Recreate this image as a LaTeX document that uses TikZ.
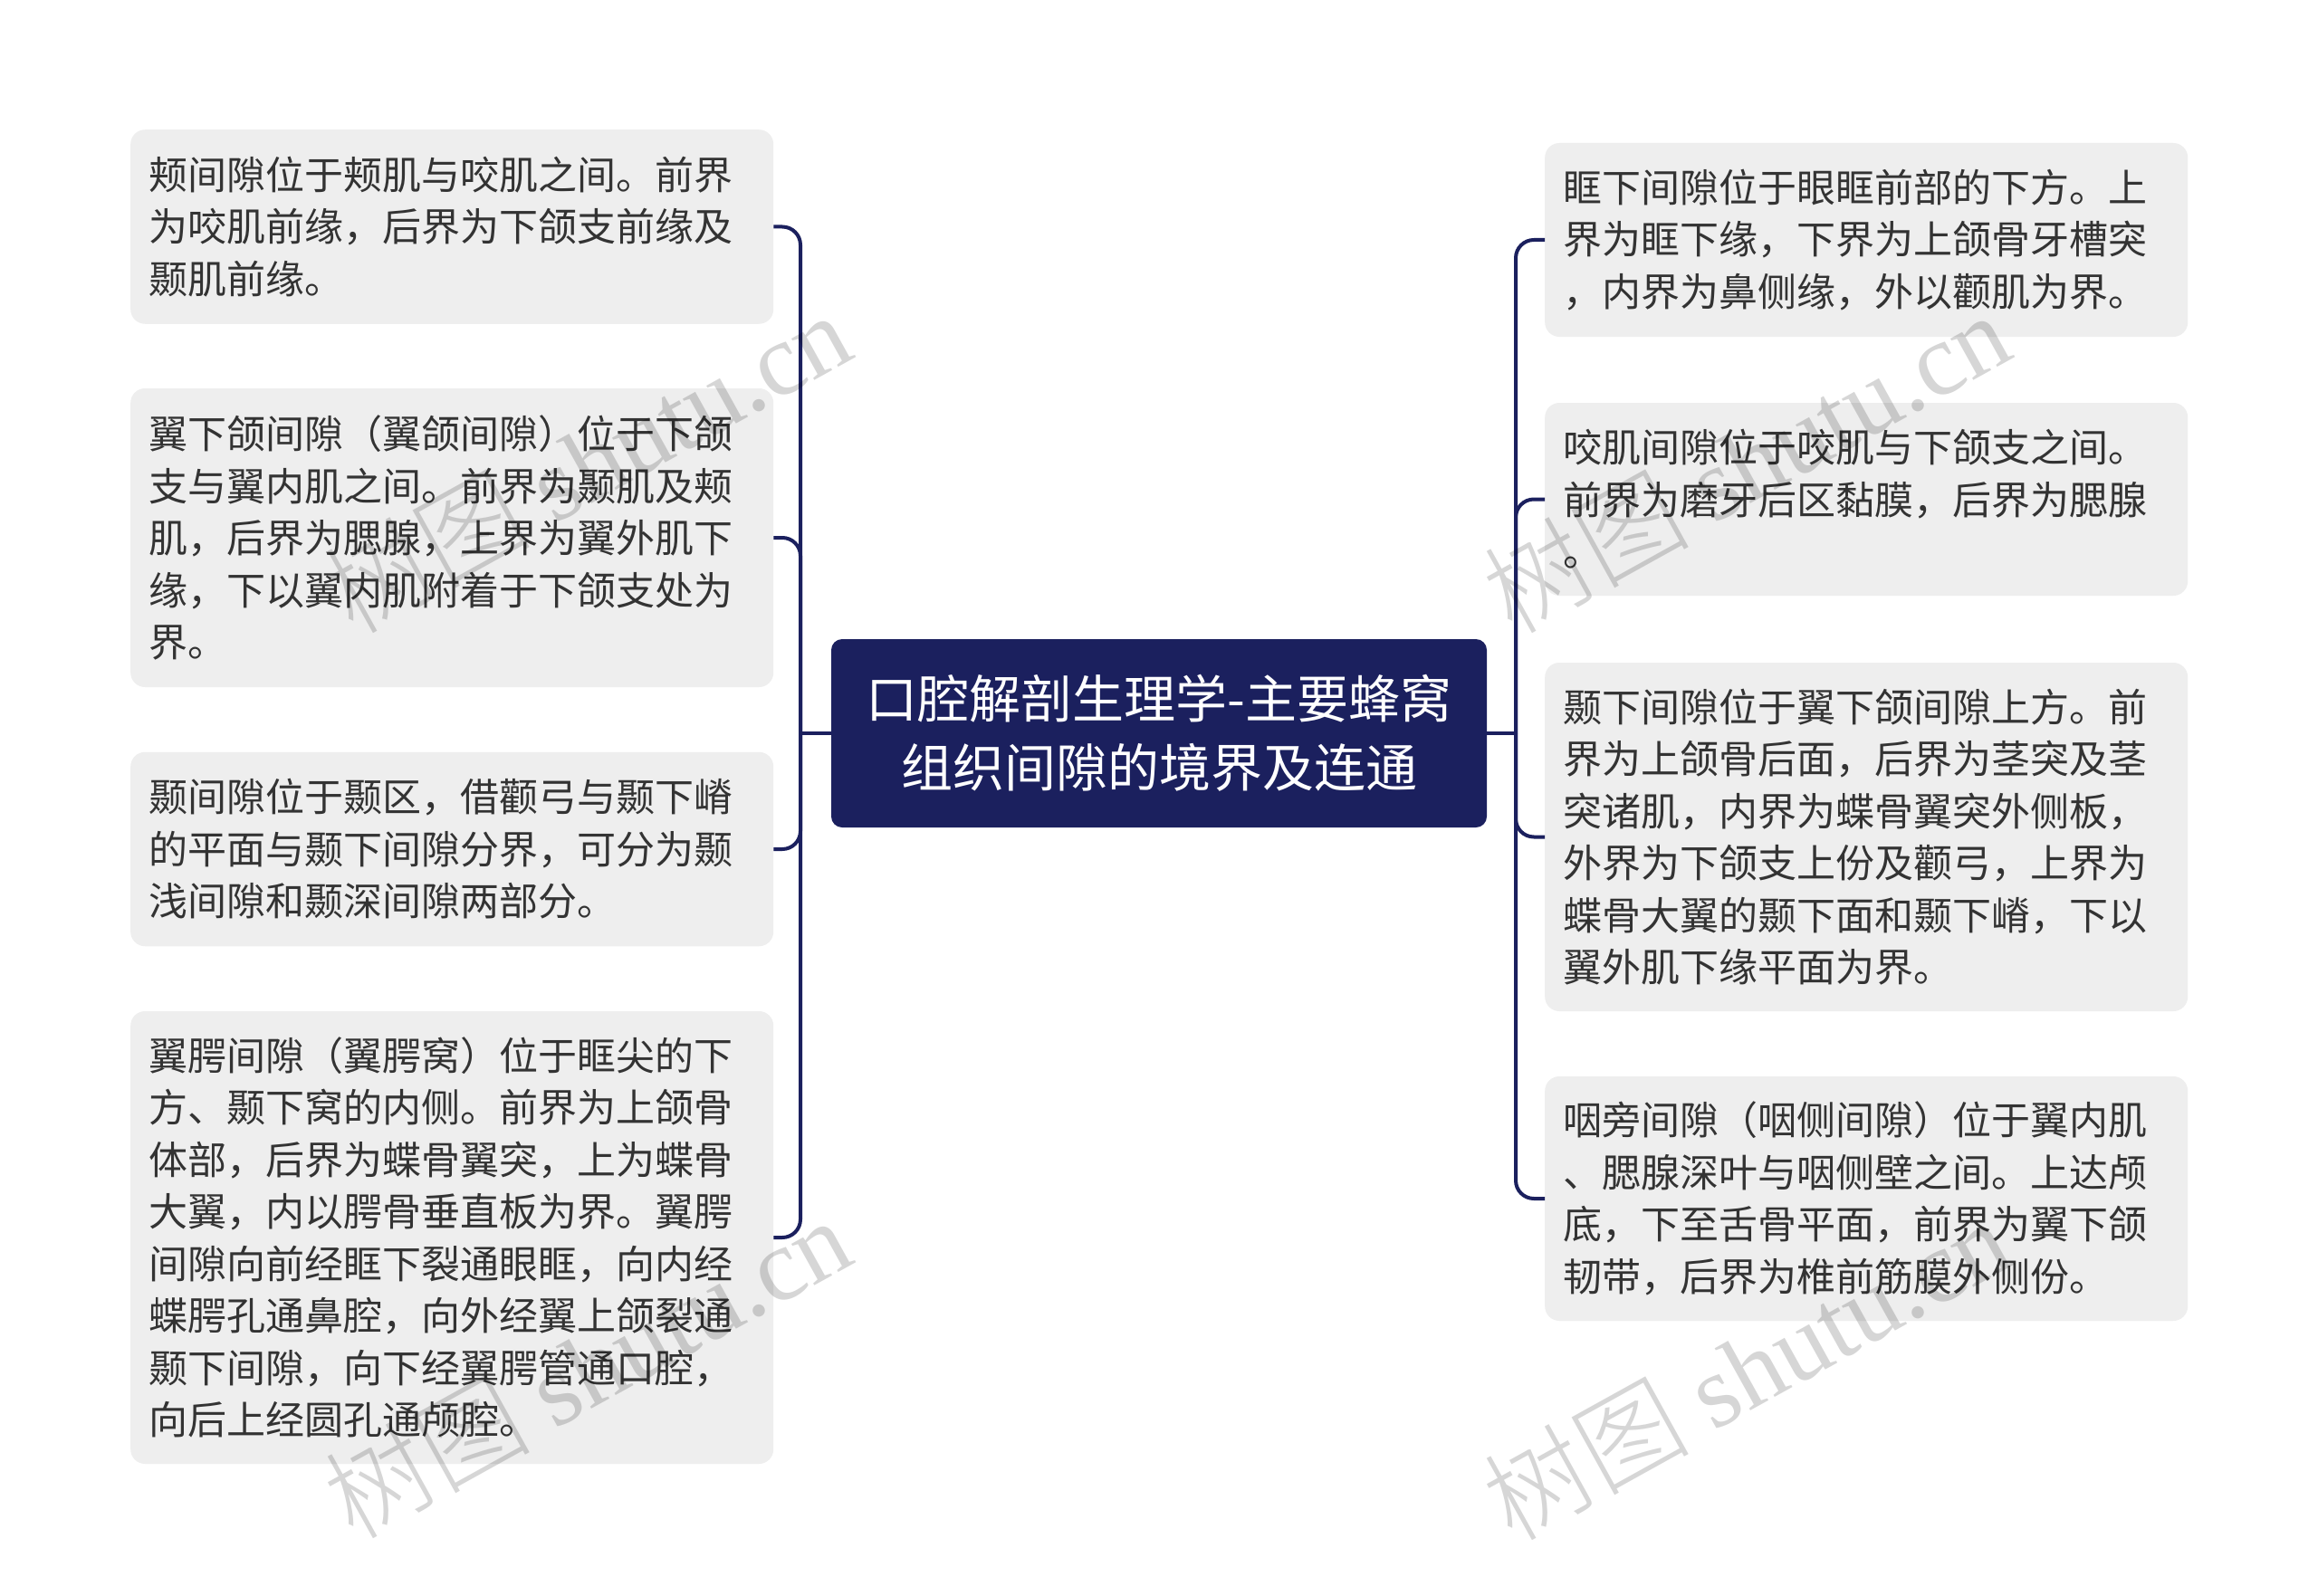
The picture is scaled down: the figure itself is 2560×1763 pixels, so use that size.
\documentclass[tikz,border=0pt]{standalone}
\usepackage{fontspec}
\setmainfont{Noto Sans CJK SC}
\newfontfamily\wmlatin{Liberation Serif}
\newfontfamily\wmcjk{Noto Sans CJK SC Light}
\definecolor{navy}{RGB}{27,32,94}
\definecolor{boxgray}{RGB}{238,238,238}
\definecolor{txtgray}{RGB}{51,51,51}
\begin{document}
\begin{tikzpicture}[x=1pt,y=-1pt,
  leaf/.style={rectangle, rounded corners=16pt, fill=boxgray, text=txtgray,
    inner xsep=20pt, inner ysep=0pt, text width=670pt, align=left,
    font=\fontsize{43pt}{57.5pt}\selectfont, minimum height=#1},
  rootbox/.style={rectangle, rounded corners=12pt, fill=navy, text=white,
    inner sep=0pt, minimum width=724pt, minimum height=208pt, align=center,
    font=\fontsize{57pt}{76pt}\selectfont},
  conn/.style={draw=navy, line width=4pt},
  wm/.style={text=black, text opacity=0.16, inner sep=0pt,
    font=\fontsize{114pt}{114pt}\selectfont, rotate=29}
]
\fill[white] (0,0) rectangle (2560,1763);
\useasboundingbox (0,0) rectangle (2560,1763);

\node[rootbox] (root) at (1280,810) {口腔解剖生理学-主要蜂窝\\组织间隙的境界及连通};

\node[leaf=214.5pt, anchor=west] (L1) at (144,250.5) {颊间隙位于颊肌与咬肌之间。前界\\为咬肌前缘，后界为下颌支前缘及\\颞肌前缘。};
\node[leaf=330pt, anchor=west] (L2) at (144,594) {翼下颌间隙（翼颌间隙）位于下颌\\支与翼内肌之间。前界为颞肌及颊\\肌，后界为腮腺，上界为翼外肌下\\缘，下以翼内肌附着于下颌支处为\\界。};
\node[leaf=214.5pt, anchor=west] (L3) at (144,938) {颞间隙位于颞区，借颧弓与颞下嵴\\的平面与颞下间隙分界，可分为颞\\浅间隙和颞深间隙两部分。};
\node[leaf=500pt, anchor=west] (L4) at (144,1367) {翼腭间隙（翼腭窝）位于眶尖的下\\方、颞下窝的内侧。前界为上颌骨\\体部，后界为蝶骨翼突，上为蝶骨\\大翼，内以腭骨垂直板为界。翼腭\\间隙向前经眶下裂通眼眶，向内经\\蝶腭孔通鼻腔，向外经翼上颌裂通\\颞下间隙，向下经翼腭管通口腔，\\向后上经圆孔通颅腔。};

\node[leaf=214pt, anchor=west] (R1) at (1706,265) {眶下间隙位于眼眶前部的下方。上\\界为眶下缘，下界为上颌骨牙槽突\\，内界为鼻侧缘，外以颧肌为界。};
\node[leaf=213pt, anchor=west] (R2) at (1706,551.5) {咬肌间隙位于咬肌与下颌支之间。\\前界为磨牙后区黏膜，后界为腮腺\\。};
\node[leaf=385pt, anchor=west] (R3) at (1706,924.5) {颞下间隙位于翼下颌间隙上方。前\\界为上颌骨后面，后界为茎突及茎\\突诸肌，内界为蝶骨翼突外侧板，\\外界为下颌支上份及颧弓，上界为\\蝶骨大翼的颞下面和颞下嵴，下以\\翼外肌下缘平面为界。};
\node[leaf=270pt, anchor=west] (R4) at (1706,1324) {咽旁间隙（咽侧间隙）位于翼内肌\\、腮腺深叶与咽侧壁之间。上达颅\\底，下至舌骨平面，前界为翼下颌\\韧带，后界为椎前筋膜外侧份。};

\coordinate (jl) at (884,810);
\coordinate (jr) at (1674,810);
\draw[conn] (root.west) -- (jl);
\draw[conn] (root.east) -- (jr);
\foreach \n in {L1,L2,L3,L4} \draw[conn, rounded corners=20pt] (jl) |- (\n.west -| \n.east);
\foreach \n in {R1,R2,R3,R4} \draw[conn, rounded corners=20pt] (jr) |- (\n.west);

\node[wm] (w1) at (648,510) {{\wmcjk 树图} {\wmlatin shutu.cn}};
\node[wm] (w2) at (1928,510) {{\wmcjk 树图} {\wmlatin shutu.cn}};
\node[wm] (w3) at (648,1510) {{\wmcjk 树图} {\wmlatin shutu.cn}};
\node[wm] (w4) at (1928,1512) {{\wmcjk 树图} {\wmlatin shutu.cn}};
\end{tikzpicture}
\end{document}
